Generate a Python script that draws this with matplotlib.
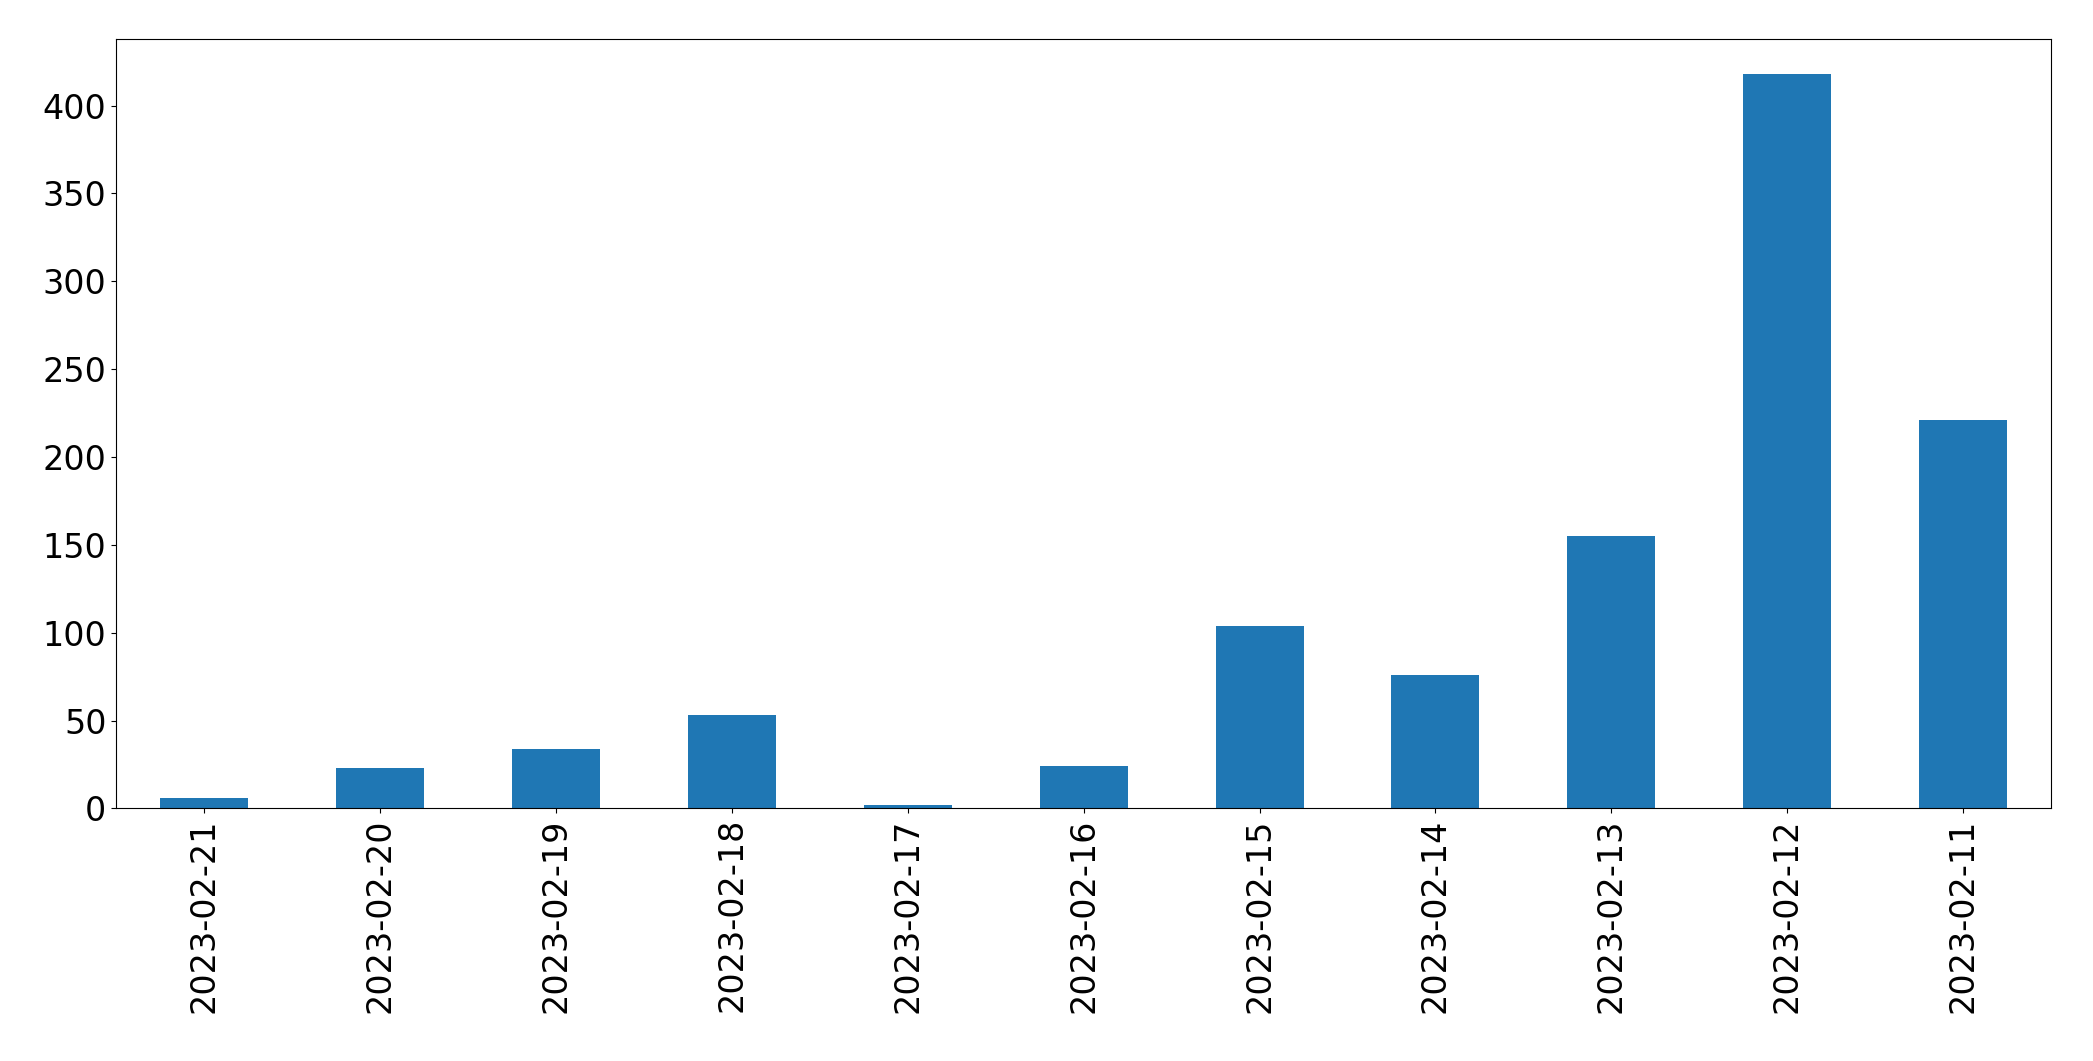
import matplotlib
matplotlib.use("Agg")
import matplotlib.pyplot as plt

dates = ["2023-02-21","2023-02-20","2023-02-19","2023-02-18","2023-02-17","2023-02-16",
         "2023-02-15","2023-02-14","2023-02-13","2023-02-12","2023-02-11"]
counts = [6, 23, 34, 53, 2, 24, 104, 76, 155, 418, 221]

fig = plt.figure(figsize=(20.93, 10.61), dpi=100)
ax = fig.add_axes([0.0555, 0.238, 0.9245, 0.7255])
x = list(range(len(dates)))
ax.bar(x, counts, width=0.5, color="#1f77b4")
ax.set_xticks(x)
ax.set_xticklabels(dates, rotation=90)
ax.set_xlim(-0.5, len(dates) - 0.5)
ax.set_ylim(0, 438)
ax.tick_params(labelsize=24)
fig.savefig("out.png", dpi=100)
